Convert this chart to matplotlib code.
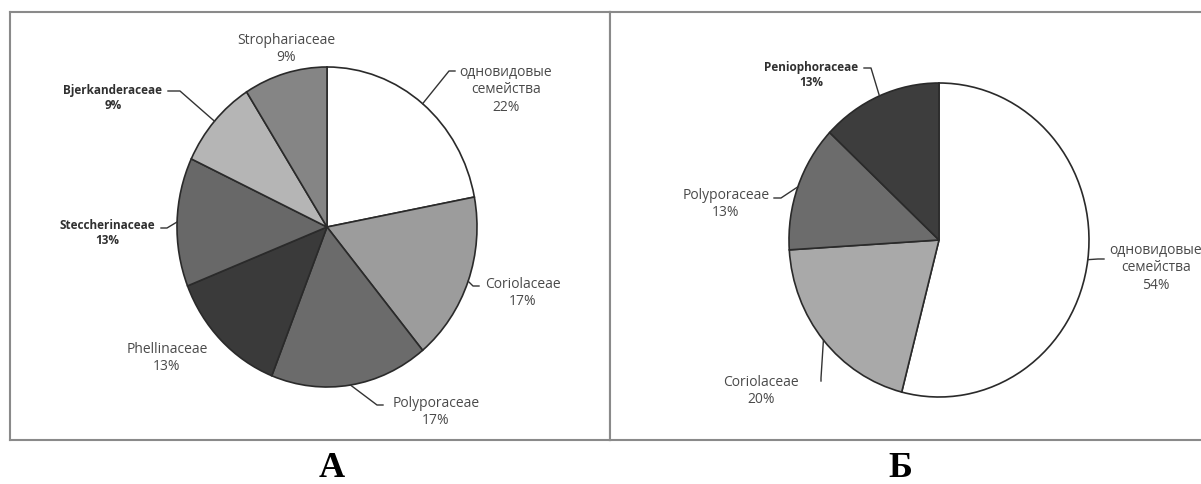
import matplotlib.pyplot as plt
import numpy as np

W, H = 1201, 484

# panel A
labels_a = ['одновидовые\nсемейства', 'Coriolaceae', 'Polyporaceae', 'Phellinaceae',
            'Steccherinaceae', 'Bjerkanderaceae', 'Strophariaceae']
values_a = [22, 17, 17, 13, 13, 9, 9]
colors_a = ['#ffffff', '#9c9c9c', '#6b6b6b', '#3a3a3a', '#686868', '#b5b5b5', '#858585']
bold_a = [False, False, False, False, True, True, False]

# panel B
labels_b = ['одновидовые\nсемейства', 'Coriolaceae', 'Polyporaceae', 'Peniophoraceae']
values_b = [54, 20, 13, 13]
colors_b = ['#ffffff', '#a9a9a9', '#6c6c6c', '#3d3d3d']
bold_b = [False, False, False, True]

# label layout in pixels: text centre, leader points (text side first)
pos_a = [(506, 90), (523, 293), (436, 412), (167, 358), (107, 233), (113, 98), (286, 49)]
lead_a = [[(455, 71), (449, 71)], [(479, 286), (473, 286)], [(383, 405), (377, 405)],
          None, [(161, 228), (167, 228)], [(168, 91), (180, 91)], None]
pos_b = [(1156, 268), (761, 391), (726, 204), (811, 75)]
lead_b = [[(1104, 259), (1098, 259)], [(821, 381), (821, 378)], [(774, 198), (781, 198)],
          [(864, 68), (871, 68)]]

fig = plt.figure(figsize=(W / 100, H / 100), dpi=100)


def panel(box, centre, radii, values, colors, labels, bold, pos, lead):
    x0, y0, x1, y1 = box
    cx, cy = centre
    rx, ry = radii
    ax = fig.add_axes([x0 / W, 1 - y1 / H, (x1 - x0) / W, (y1 - y0) / H])
    ax.pie(values, colors=colors, startangle=90, counterclock=False,
           wedgeprops=dict(edgecolor='#2a2a2a', linewidth=1.2))
    ax.set_aspect('auto')
    ax.set_xlim((x0 - cx) / rx, (x1 - cx) / rx)
    ax.set_ylim((cy - y1) / ry, (cy - y0) / ry)
    ax.set_frame_on(True)
    for s in ax.spines.values():
        s.set_color('#8a8a8a')
        s.set_linewidth(1.5)

    def to_data(px, py):
        return (px - cx) / rx, (cy - py) / ry

    cum = np.cumsum([0] + list(values))
    total = cum[-1]
    for i, v in enumerate(values):
        x, y = to_data(*pos[i])
        ax.text(x, y, f'{labels[i]}\n{v}%', ha='center', va='center',
                fontsize=8.5 if bold[i] else 10, family='Open Sans',
                fontweight='bold' if bold[i] else 'normal',
                color='#303030' if bold[i] else '#4a4a4a',
                linespacing=1.25, clip_on=False)
        if lead[i] is not None:
            th = np.deg2rad(90 - 360 * (cum[i] + v / 2) / total)
            pts = [to_data(*p) for p in lead[i]] + [(np.cos(th), np.sin(th))]
            xs, ys = zip(*pts)
            ax.plot(xs, ys, color='#333333', lw=1.0, clip_on=False)
    return ax


panel((10, 12, 610, 440), (327, 227), (150, 160), values_a, colors_a,
      labels_a, bold_a, pos_a, lead_a)
panel((610, 12, 1215, 440), (939, 240), (150, 157), values_b, colors_b,
      labels_b, bold_b, pos_b, lead_b)

fig.text(332 / W, 1 - 477 / H, 'А', ha='center', va='baseline', fontsize=26,
         family='Liberation Serif', fontweight='bold')
fig.text(900 / W, 1 - 477 / H, 'Б', ha='center', va='baseline', fontsize=26,
         family='Liberation Serif', fontweight='bold')

fig.savefig('out.png', dpi=100, facecolor='white')
